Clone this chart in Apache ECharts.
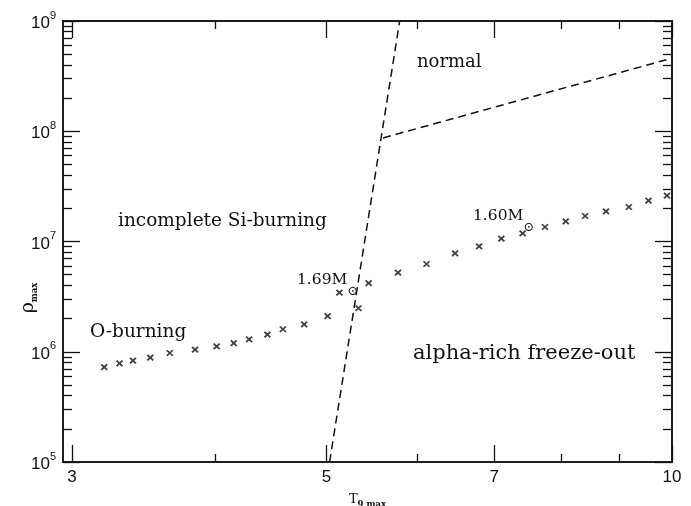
<!DOCTYPE html>
<html>
<head>
<meta charset="utf-8">
<script src="https://cdn.jsdelivr.net/npm/echarts@6/dist/echarts.min.js"></script>
<style>
  html, body { margin: 0; padding: 0; background: #ffffff; }
  #chart { width: 691px; height: 506px; }
</style>
</head>
<body>
<div id="chart"></div>
<script>
// Peak temperature (T9,max) and peak density (rho_max) of the model sequence
const tempMax = [3.20, 3.30, 3.39, 3.51, 3.65, 3.84, 4.01, 4.15, 4.28, 4.44,
                 4.58, 4.78, 5.01, 5.13, 5.33, 5.44, 5.77, 6.11, 6.47, 6.79,
                 7.10, 7.41, 7.75, 8.08, 8.40, 8.76, 9.17, 9.54, 9.90];
const rhoMax = [7.27e5, 7.86e5, 8.31e5, 8.85e5, 9.74e5, 1.046e6, 1.121e6, 1.20e6, 1.297e6, 1.43e6,
                1.60e6, 1.774e6, 2.10e6, 3.44e6, 2.48e6, 4.20e6, 5.22e6, 6.25e6, 7.82e6, 9.05e6,
                1.062e7, 1.187e7, 1.354e7, 1.525e7, 1.703e7, 1.878e7, 2.055e7, 2.35e7, 2.61e7];

// Burning-regime boundaries (dashed)
const siBoundaryT = [5.03, 5.79];
const siBoundaryRho = [1e5, 1e9];
const normalBoundaryT = [5.60, 10];
const normalBoundaryRho = [8.7e7, 4.6e8];

// Axis ticks
const xMajorTicks = [3, 5, 7, 10];
const xMinorTicks = [4, 6, 8, 9];
const yMajorTicks = [1e5, 1e6, 1e7, 1e8, 1e9];
const yMinorMantissas = [2, 3, 4, 5, 6, 7, 8, 9];
const yMinorTicks = [];
[1e5, 1e6, 1e7, 1e8].forEach(d => yMinorMantissas.forEach(m => yMinorTicks.push(m * d)));

const X_MIN = 2.946, X_MAX = 10;
const Y_MIN = 1e5, Y_MAX = 1e9;
const INK = '#111111';
const SERIF = '"DejaVu Serif", serif';
const SANS = '"Liberation Sans", Arial, sans-serif';

function toPairs(xs, ys) { return xs.map((x, i) => [x, ys[i]]); }

function xAxisDef(position, ticks, len, withLabels, extra) {
  return Object.assign({
    type: 'log', logBase: 10, min: X_MIN, max: X_MAX, position: position,
    axisLine: { show: true, onZero: false, lineStyle: { color: INK, width: 1.5 } },
    axisTick: { show: true, inside: true, length: len, customValues: ticks,
                lineStyle: { color: INK, width: 1.3 } },
    axisLabel: withLabels ? {
      show: true, customValues: ticks, margin: 7, color: INK,
      fontFamily: SANS, fontSize: 17, formatter: v => String(Math.round(v))
    } : { show: false },
    splitLine: { show: false }, minorTick: { show: false }, minorSplitLine: { show: false }
  }, extra || {});
}

function yAxisDef(position, ticks, len, withLabels, extra) {
  return Object.assign({
    type: 'log', logBase: 10, min: Y_MIN, max: Y_MAX, position: position,
    axisLine: { show: true, onZero: false, lineStyle: { color: INK, width: 1.5 } },
    axisTick: { show: true, inside: true, length: len, customValues: ticks,
                lineStyle: { color: INK, width: 1.3 } },
    axisLabel: withLabels ? {
      show: true, customValues: ticks, margin: 7, color: INK,
      formatter: v => '{b|10}{s|' + Math.round(Math.log10(v)) + '}',
      rich: {
        b: { fontFamily: SANS, fontSize: 17, lineHeight: 22, verticalAlign: 'bottom', color: INK },
        s: { fontFamily: SANS, fontSize: 11, lineHeight: 12, verticalAlign: 'top', color: INK }
      }
    } : { show: false },
    splitLine: { show: false }, minorTick: { show: false }, minorSplitLine: { show: false }
  }, extra || {});
}

const chart = echarts.init(document.getElementById('chart'), null, { renderer: 'canvas' });

const NOTE_SIZE = 18;
function note(left, y, text, size, rich) {
  return { type: 'text', left: left, top: y - 12,
           style: { text: text, rich: rich, fontFamily: SERIF, fontSize: size || NOTE_SIZE, fill: INK } };
}
const massRich = {
  m: { fontFamily: SERIF, fontSize: 15.5, lineHeight: 26, verticalAlign: 'top', color: INK },
  sub: { fontFamily: SERIF, fontSize: 13, lineHeight: 14, verticalAlign: 'bottom', color: INK }
};

chart.setOption({
  animation: false,
  backgroundColor: '#ffffff',
  grid: { left: 63, right: 19, top: 21, bottom: 44, containLabel: false, outerBoundsMode: 'none' },
  xAxis: [
    xAxisDef('bottom', xMajorTicks, 17, true, {
      name: '{t|T}{s|9,max}', nameLocation: 'middle', nameGap: 31, nameMoveOverlap: false,
      nameTextStyle: { rich: {
        t: { fontFamily: SERIF, fontSize: 13, color: INK, verticalAlign: 'top', lineHeight: 16 },
        s: { fontFamily: SERIF, fontSize: 8.5, fontWeight: 'bold', color: INK, verticalAlign: 'bottom', lineHeight: 10 }
      } }
    }),
    xAxisDef('bottom', xMinorTicks, 8, false),
    xAxisDef('top', xMajorTicks, 17, false),
    xAxisDef('top', xMinorTicks, 8, false)
  ],
  yAxis: [
    yAxisDef('left', yMajorTicks, 17, true),
    yAxisDef('left', yMinorTicks, 9, false),
    yAxisDef('right', yMajorTicks, 17, false),
    yAxisDef('right', yMinorTicks, 9, false)
  ],
  graphic: [
    // Vertical axis title, set between the 10^6 and 10^7 labels
    {
      type: 'text', x: 29, y: 298, rotation: Math.PI / 2,
      style: {
        text: '{r|ρ}{s|max}', align: 'center', verticalAlign: 'middle', fill: INK,
        rich: {
          r: { fontFamily: SERIF, fontSize: 19, color: INK, verticalAlign: 'top', lineHeight: 20 },
          s: { fontFamily: SERIF, fontSize: 8.5, fontWeight: 'bold', color: INK, verticalAlign: 'bottom', lineHeight: 10 }
        }
      }
    },
    note(417, 65, 'normal'),
    note(118, 224, 'incomplete Si-burning', 18.5),
    note(90, 335, 'O-burning', 18.5),
    note(413, 355, 'alpha-rich freeze-out', 21),
    note(297, 284, '{m|1.69M}{sub|⊙}', NOTE_SIZE, massRich),
    note(473, 220, '{m|1.60M}{sub|⊙}', NOTE_SIZE, massRich)
  ],
  series: [
    {
      name: 'models', type: 'scatter', xAxisIndex: 0, yAxisIndex: 0,
      data: toPairs(tempMax, rhoMax),
      symbol: 'path://M0,0L10,10M10,0L0,10', symbolSize: [6, 5.5],
      itemStyle: { color: 'transparent', borderColor: INK, borderWidth: 1.8 },
      silent: true
    },
    {
      name: 'Si boundary', type: 'line', xAxisIndex: 0, yAxisIndex: 0,
      data: toPairs(siBoundaryT, siBoundaryRho), symbol: 'none',
      lineStyle: { color: INK, width: 1.5, type: [8, 5] }, silent: true
    },
    {
      name: 'normal boundary', type: 'line', xAxisIndex: 0, yAxisIndex: 0,
      data: toPairs(normalBoundaryT, normalBoundaryRho), symbol: 'none',
      lineStyle: { color: INK, width: 1.5, type: [8, 5] }, silent: true
    }
  ]
});
</script>
</body>
</html>
